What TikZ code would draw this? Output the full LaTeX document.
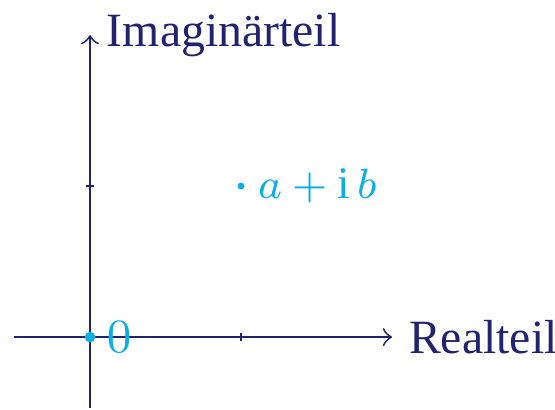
\documentclass[tikz,border=0pt]{standalone}
\usepackage{fontspec}
\setmainfont{Liberation Serif}
\usepackage{amsmath}
\usepackage{tikz}
\usetikzlibrary{arrows, positioning}
\usepackage{xcolor}
\definecolor{axisblue}{HTML}{22226E}
\definecolor{pointcyan}{HTML}{0AAFE6}
\tikzstyle{axis} = [axisblue, line width=0.35pt, ->]
\tikzstyle{tick} = [axisblue, line width=0.35pt]
\tikzstyle{axislabel} = [text=axisblue, font=\fontsize{9}{11}\selectfont, inner sep=3pt, anchor=west]
\tikzstyle{pointlabel} = [text=pointcyan, font=\fontsize{9}{11}\selectfont, inner sep=3pt, anchor=west]

\begin{document}
\begin{tikzpicture}
    \useasboundingbox (-0.596,-0.477) rectangle (3.079,2.232);
    \coordinate (xmin) at (-0.5,0);
    \coordinate (xmax) at (2,0);
    \coordinate (ymin) at (0,-0.47);
    \coordinate (ymax) at (0,2);
    \coordinate (origin) at (0,0);
    \coordinate (xone) at (1,0);
    \coordinate (yone) at (0,1);
    \coordinate (z) at (1,1);

    \draw [axis] (xmin) -- (xmax);
    \draw [axis] (ymin) -- (ymax);
    \draw [tick] ([yshift=-0.25mm]xone) -- ([yshift=0.25mm]xone);
    \draw [tick] ([xshift=-0.25mm]yone) -- ([xshift=0.25mm]yone);

    \node (re) [axislabel] at (xmax) {Realteil};
    \node (im) [axislabel] at (ymax) {Imaginärteil};

    \fill [pointcyan] (origin) circle (1pt);
    \fill [pointcyan] (z) circle (0.65pt);
    \node (zero) [pointlabel] at (origin) {$0$};
    \node (zlabel) [pointlabel, font=\fontsize{8.5}{10}\selectfont] at (z) {$a+\mathrm{i}\,b$};
\end{tikzpicture}
\end{document}
